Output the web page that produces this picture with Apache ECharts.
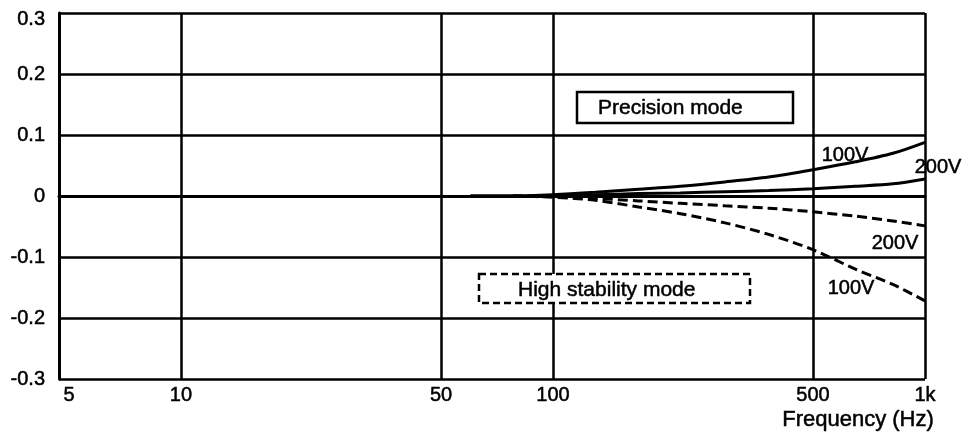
<!DOCTYPE html>
<html>
<head>
<meta charset="utf-8">
<script src="https://cdn.jsdelivr.net/npm/echarts@6/dist/echarts.min.js"></script>
<style>
html,body{margin:0;padding:0;background:#fff;}
#chart{width:965px;height:435px;}
</style>
</head>
<body>
<div id="chart"></div>
<script>
// ---- data ----
const xTickLabels = [5, 10, 50, 100, 500, 1000];
const xGridValues = [10, 50, 100, 500, 1000];
const yTicks = [-0.3, -0.2, -0.1, 0, 0.1, 0.2, 0.3];

const freqs = [60, 78, 100, 130, 170, 220, 290, 380, 500, 650, 820, 1000];
const precision100V = [0, 0, 0.002, 0.006, 0.011, 0.016, 0.023, 0.031, 0.043, 0.056, 0.070, 0.088];
const precision200V = [0, 0, 0.001, 0.002, 0.004, 0.005, 0.007, 0.009, 0.012, 0.016, 0.020, 0.028];

const freqsStab = [78, 100, 130, 170, 220, 290, 380, 500, 650, 820, 1000];
const stability200V = [0, -0.001, -0.004, -0.008, -0.012, -0.016, -0.020, -0.026, -0.033, -0.041, -0.049];
const stability100V = [0, -0.002, -0.007, -0.018, -0.029, -0.044, -0.063, -0.088, -0.120, -0.145, -0.172];

const FONT = "'Liberation Sans', Arial, sans-serif";
const TEXT_STROKE = 0.5;

function pairs(xs, ys) { return xs.map((x, i) => [x, ys[i]]); }

const chart = echarts.init(document.getElementById('chart'), null, {renderer: 'canvas'});

function lineSeries(name, xs, ys, dashed) {
  return {
    name: name,
    type: 'line',
    smooth: 0.3,
    showSymbol: false,
    silent: true,
    data: pairs(xs, ys),
    lineStyle: {color: '#000', width: 3, type: dashed ? [10, 5] : 'solid'},
    z: 5
  };
}

function txt(x, y, text, size, align) {
  return {
    type: 'text', x: x, y: y, z: 11,
    style: {
      text: text, font: size + 'px ' + FONT, fill: '#000',
      stroke: '#000', lineWidth: TEXT_STROKE,
      align: align || 'center', verticalAlign: 'middle'
    }
  };
}

const option = {
  backgroundColor: '#fff',
  animation: false,
  grid: {left: 59, right: 40, top: 13, bottom: 56, containLabel: false, outerBoundsMode: 'none'},
  xAxis: {
    type: 'log',
    logBase: 10,
    min: 4.7,
    max: 1000,
    axisLine: {show: true, lineStyle: {color: '#000', width: 3}},
    axisTick: {show: false, customValues: xGridValues},
    splitLine: {show: true, lineStyle: {color: '#000', width: 2.5}},
    minorTick: {show: false},
    minorSplitLine: {show: false},
    axisLabel: {
      customValues: xTickLabels,
      color: '#000',
      fontFamily: FONT,
      fontSize: 20,
      margin: 6,
      textBorderColor: '#000',
      textBorderWidth: TEXT_STROKE,
      formatter: function (v) { return v >= 999 ? '1k' : String(Math.round(v)); }
    }
  },
  yAxis: {
    type: 'value',
    min: -0.3,
    max: 0.3,
    interval: 0.1,
    axisLine: {show: true, lineStyle: {color: '#000', width: 3}},
    axisTick: {show: false},
    splitLine: {show: true, lineStyle: {color: '#000', width: 2.5}},
    axisLabel: {
      color: '#000',
      fontFamily: FONT,
      fontSize: 20,
      margin: 14,
      textBorderColor: '#000',
      textBorderWidth: TEXT_STROKE,
      formatter: function (v) {
        if (Math.abs(v) < 1e-9) return '0';
        if (v > 0.29) return '{top|' + v.toFixed(1) + '}';
        return v.toFixed(1);
      },
      rich: {top: {fontFamily: FONT, fontSize: 20, color: '#000', textBorderColor: '#000', textBorderWidth: TEXT_STROKE, padding: [12, 0, 0, 0]}}
    }
  },
  series: [
    lineSeries('Precision 100V', freqs, precision100V, false),
    lineSeries('Precision 200V', freqs, precision200V, false),
    lineSeries('High stability 200V', freqsStab, stability200V, true),
    lineSeries('High stability 100V', freqsStab, stability100V, true)
  ],
  graphic: [
    {type: 'rect', shape: {x: 577, y: 92, width: 216, height: 31}, style: {fill: '#fff', stroke: '#000', lineWidth: 2.5}, z: 10},
    txt(598, 108, 'Precision mode', 21, 'left'),
    {type: 'rect', shape: {x: 479, y: 274, width: 271, height: 29}, style: {fill: '#fff', stroke: '#000', lineWidth: 2.5, lineDash: [7, 4]}, z: 10},
    txt(518, 290, 'High stability mode', 21, 'left'),
    txt(845, 155, '100V', 20),
    txt(938, 167, '200V', 20),
    txt(895, 243, '200V', 20),
    txt(851, 288, '100V', 20),
    txt(858, 420, 'Frequency (Hz)', 22)
  ]
};

chart.setOption(option);
</script>
</body>
</html>
